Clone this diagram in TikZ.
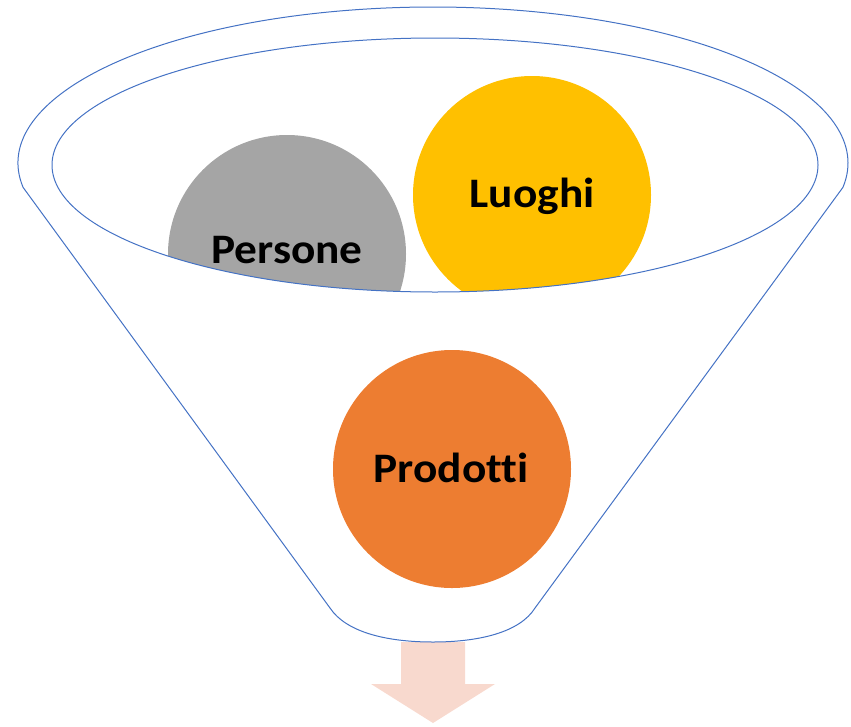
\documentclass[tikz,border=0pt]{standalone}
\usepackage{fontspec}
\setmainfont{Carlito}[Ligatures=NoCommon, FakeStretch=1.08]
\definecolor{funnelblue}{HTML}{4472C4}
\definecolor{grayball}{HTML}{A5A5A5}
\definecolor{goldball}{HTML}{FFC000}
\definecolor{orangeball}{HTML}{ED7D31}
\definecolor{arrowpink}{HTML}{F8D9CE}
\tikzset{
  outline/.style={draw=funnelblue, line width=1pt},
  ball/.style={circle, minimum size=238pt, inner sep=0pt},
  label/.style={font=\bfseries\fontsize{42}{42}\selectfont, text=black, anchor=base, inner sep=0pt},
}
\begin{document}
\begin{tikzpicture}[x=1pt,y=-1pt]
\useasboundingbox (0,0) rectangle (851,726);
% arrow below funnel
\fill[arrowpink] (401,642) -- (465,642) -- (465,684) -- (495,684) -- (433,723) -- (371,684) -- (401,684) -- cycle;
% funnel outline
\draw[outline] (433,163) ++(171:415 and 156) arc[start angle=171, end angle=369, x radius=415, y radius=156]
  coordinate (rtop) -- (535,608) .. controls (520,632) and (480,642) .. (433,642)
  .. controls (386,642) and (346,632) .. (330,608) -- cycle;
% balls clipped by inner ellipse
\begin{scope}
  \clip (435,165) ellipse [x radius=383, y radius=127];
  \node[ball, fill=grayball] (pers) at (287,254) {};
  \node[ball, fill=goldball] (luog) at (532,195) {};
\end{scope}
\draw[outline] (435,165) ellipse [x radius=383, y radius=127];
\node[ball, fill=orangeball] (prod) at (452,469) {};
\node[label] (tpers) at (287,263) {Persone};
\node[label] (tluog) at (532,207) {Luoghi};
\node[label] (tprod) at (451,482) {Prodotti};
\end{tikzpicture}
\end{document}
